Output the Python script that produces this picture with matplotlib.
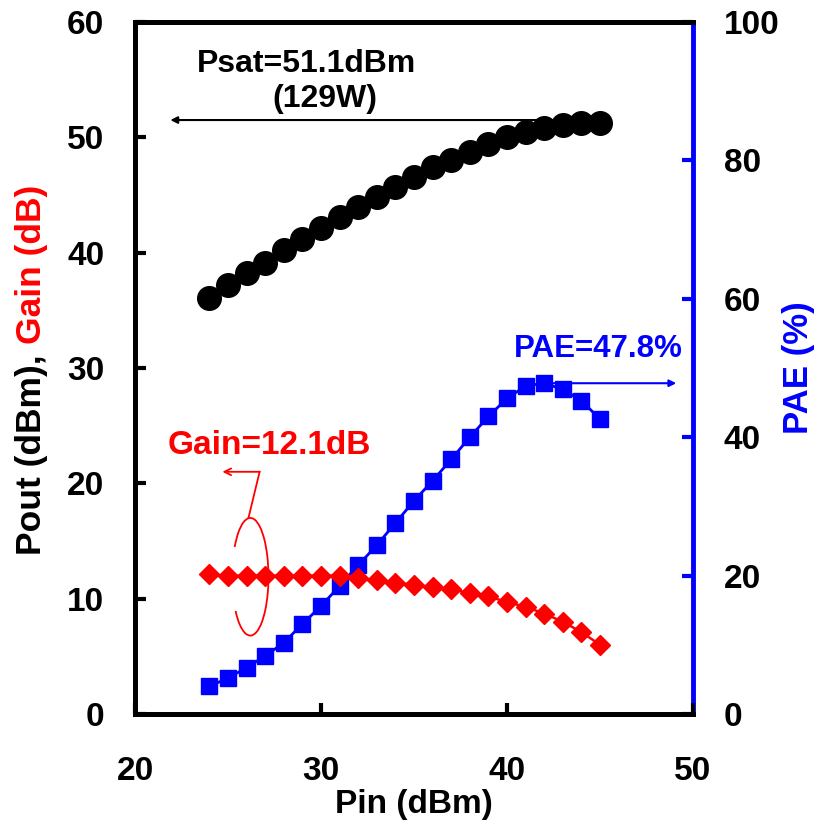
import matplotlib
matplotlib.use("Agg")
import matplotlib.pyplot as plt
from matplotlib.patches import Arc

plt.rcParams['font.family'] = ['Liberation Sans', 'DejaVu Sans']
plt.rcParams['font.weight'] = 'bold'

# Input power sweep (dBm)
pin = [24, 25, 26, 27, 28, 29, 30, 31, 32, 33, 34, 35, 36, 37, 38, 39, 40, 41, 42, 43, 44, 45]
# Output power (dBm)
pout = [36.1, 37.2, 38.2, 39.1, 40.2, 41.2, 42.1, 43.1, 44.0, 44.8, 45.7, 46.6, 47.4, 48.0,
        48.7, 49.4, 50.0, 50.5, 50.8, 51.1, 51.2, 51.2]
# Gain (dB)
gain = [12.1, 12.0, 12.0, 12.0, 12.0, 12.0, 12.0, 12.0, 11.8, 11.6, 11.4, 11.2, 11.0, 10.8,
        10.5, 10.2, 9.7, 9.3, 8.7, 8.0, 7.1, 6.0]
# Power added efficiency (%)
pae = [4.0, 5.2, 6.7, 8.4, 10.3, 13.0, 15.6, 18.5, 21.5, 24.4, 27.6, 30.8, 33.7, 36.8,
       40.0, 43.0, 45.6, 47.4, 47.8, 46.9, 45.3, 42.6]

x_ticks = [20, 30, 40, 50]
left_ticks = [0, 10, 20, 30, 40, 50, 60]
right_ticks = [0, 20, 40, 60, 80, 100]

RED = '#FF0000'
BLUE = '#0000FF'
W, H = 817, 827

fig = plt.figure(figsize=(W / 100, H / 100), dpi=100)
ax = fig.add_axes([135 / W, 1 - 714 / H, (693 - 135) / W, (714 - 22) / H])
ax2 = ax.twinx()
ax.set_zorder(ax2.get_zorder() + 1)
ax.patch.set_visible(False)

# PAE on the right axis
ax2.plot(pin, pae, color=BLUE, lw=2.0, marker='s', ms=12, mec=BLUE, mfc=BLUE, zorder=3)
# Pout and Gain on the left axis
ax.plot(pin, gain, color=RED, lw=1.8, marker='D', ms=10.5, mec=RED, mfc=RED, zorder=3)
ax.plot(pin, pout, color='black', lw=1.5, marker='o', ms=17, mec='black', mfc='black', zorder=4)

ax.set_xlim(20, 50)
ax.set_ylim(0, 60)
ax2.set_ylim(0, 100)
ax.set_xticks(x_ticks)
ax.set_yticks(left_ticks)
ax2.set_yticks(right_ticks)

tick_fs = 24
ax.tick_params(axis='both', direction='in', length=8, width=3, labelsize=tick_fs, colors='black')
ax.tick_params(axis='x', pad=30)
ax.tick_params(axis='y', pad=22)
ax2.tick_params(axis='y', direction='in', length=8, width=3, labelsize=tick_fs,
                color=BLUE, labelcolor='black', pad=22)
for lab in ax.get_xticklabels() + ax.get_yticklabels() + ax2.get_yticklabels():
    lab.set_fontweight('bold')

for a in (ax, ax2):
    for s in a.spines.values():
        s.set_linewidth(3.5)
        s.set_color('black')
ax2.spines['right'].set_color(BLUE)
ax.spines['right'].set_visible(False)

ax.set_xlabel('Pin (dBm)', fontsize=24, fontweight='bold', labelpad=2)
ax2.set_ylabel('PAE (%)', fontsize=25, fontweight='bold', color=BLUE, labelpad=2)

# Two-colour left axis label
lab_x = 32 / W
t1 = fig.text(lab_x, 1 - 555 / H, 'Pout (dBm), ', rotation=90, ha='center', va='bottom',
              fontsize=25.5, fontweight='bold', color='black')
fig.canvas.draw()
bb = t1.get_window_extent(fig.canvas.get_renderer())
fig.text(lab_x, bb.y1 / fig.bbox.height, 'Gain (dB)', rotation=90, ha='center', va='bottom',
         fontsize=25.5, fontweight='bold', color=RED)

# Psat annotation
ax.text(29.2, 56.4, 'Psat=51.1dBm', fontsize=23, fontweight='bold', ha='center', va='center')
ax.text(30.2, 53.3, '(129W)', fontsize=23, fontweight='bold', ha='center', va='center')
ax.annotate('', xy=(21.9, 51.5), xytext=(44.0, 51.5),
            arrowprops=dict(arrowstyle='-|>', color='black', lw=1.5, mutation_scale=10,
                            shrinkA=0, shrinkB=0), zorder=2)

# PAE annotation
ax2.text(44.9, 52.8, 'PAE=47.8%', fontsize=22.5, fontweight='bold', color=BLUE,
         ha='center', va='center')
ax2.annotate('', xy=(49.1, 47.8), xytext=(42.0, 47.8),
             arrowprops=dict(arrowstyle='-|>', color=BLUE, lw=1.5, mutation_scale=10,
                             shrinkA=0, shrinkB=0))

# Gain annotation with loop around the flat region
ax.text(27.2, 23.3, 'Gain=12.1dB', fontsize=24, fontweight='bold', color=RED,
        ha='center', va='center')
ax.annotate('', xy=(24.7, 21.0), xytext=(26.7, 21.0),
            arrowprops=dict(arrowstyle='->', color=RED, lw=1.3, mutation_scale=12,
                            shrinkA=0, shrinkB=0))
ax.plot([26.7, 26.1], [21.0, 17.0], color=RED, lw=1.3)
ax.add_patch(Arc((26.2, 11.9), 1.95, 10.2, theta1=-105, theta2=108, color=RED, lw=1.3))

fig.savefig('out.png', dpi=100)
